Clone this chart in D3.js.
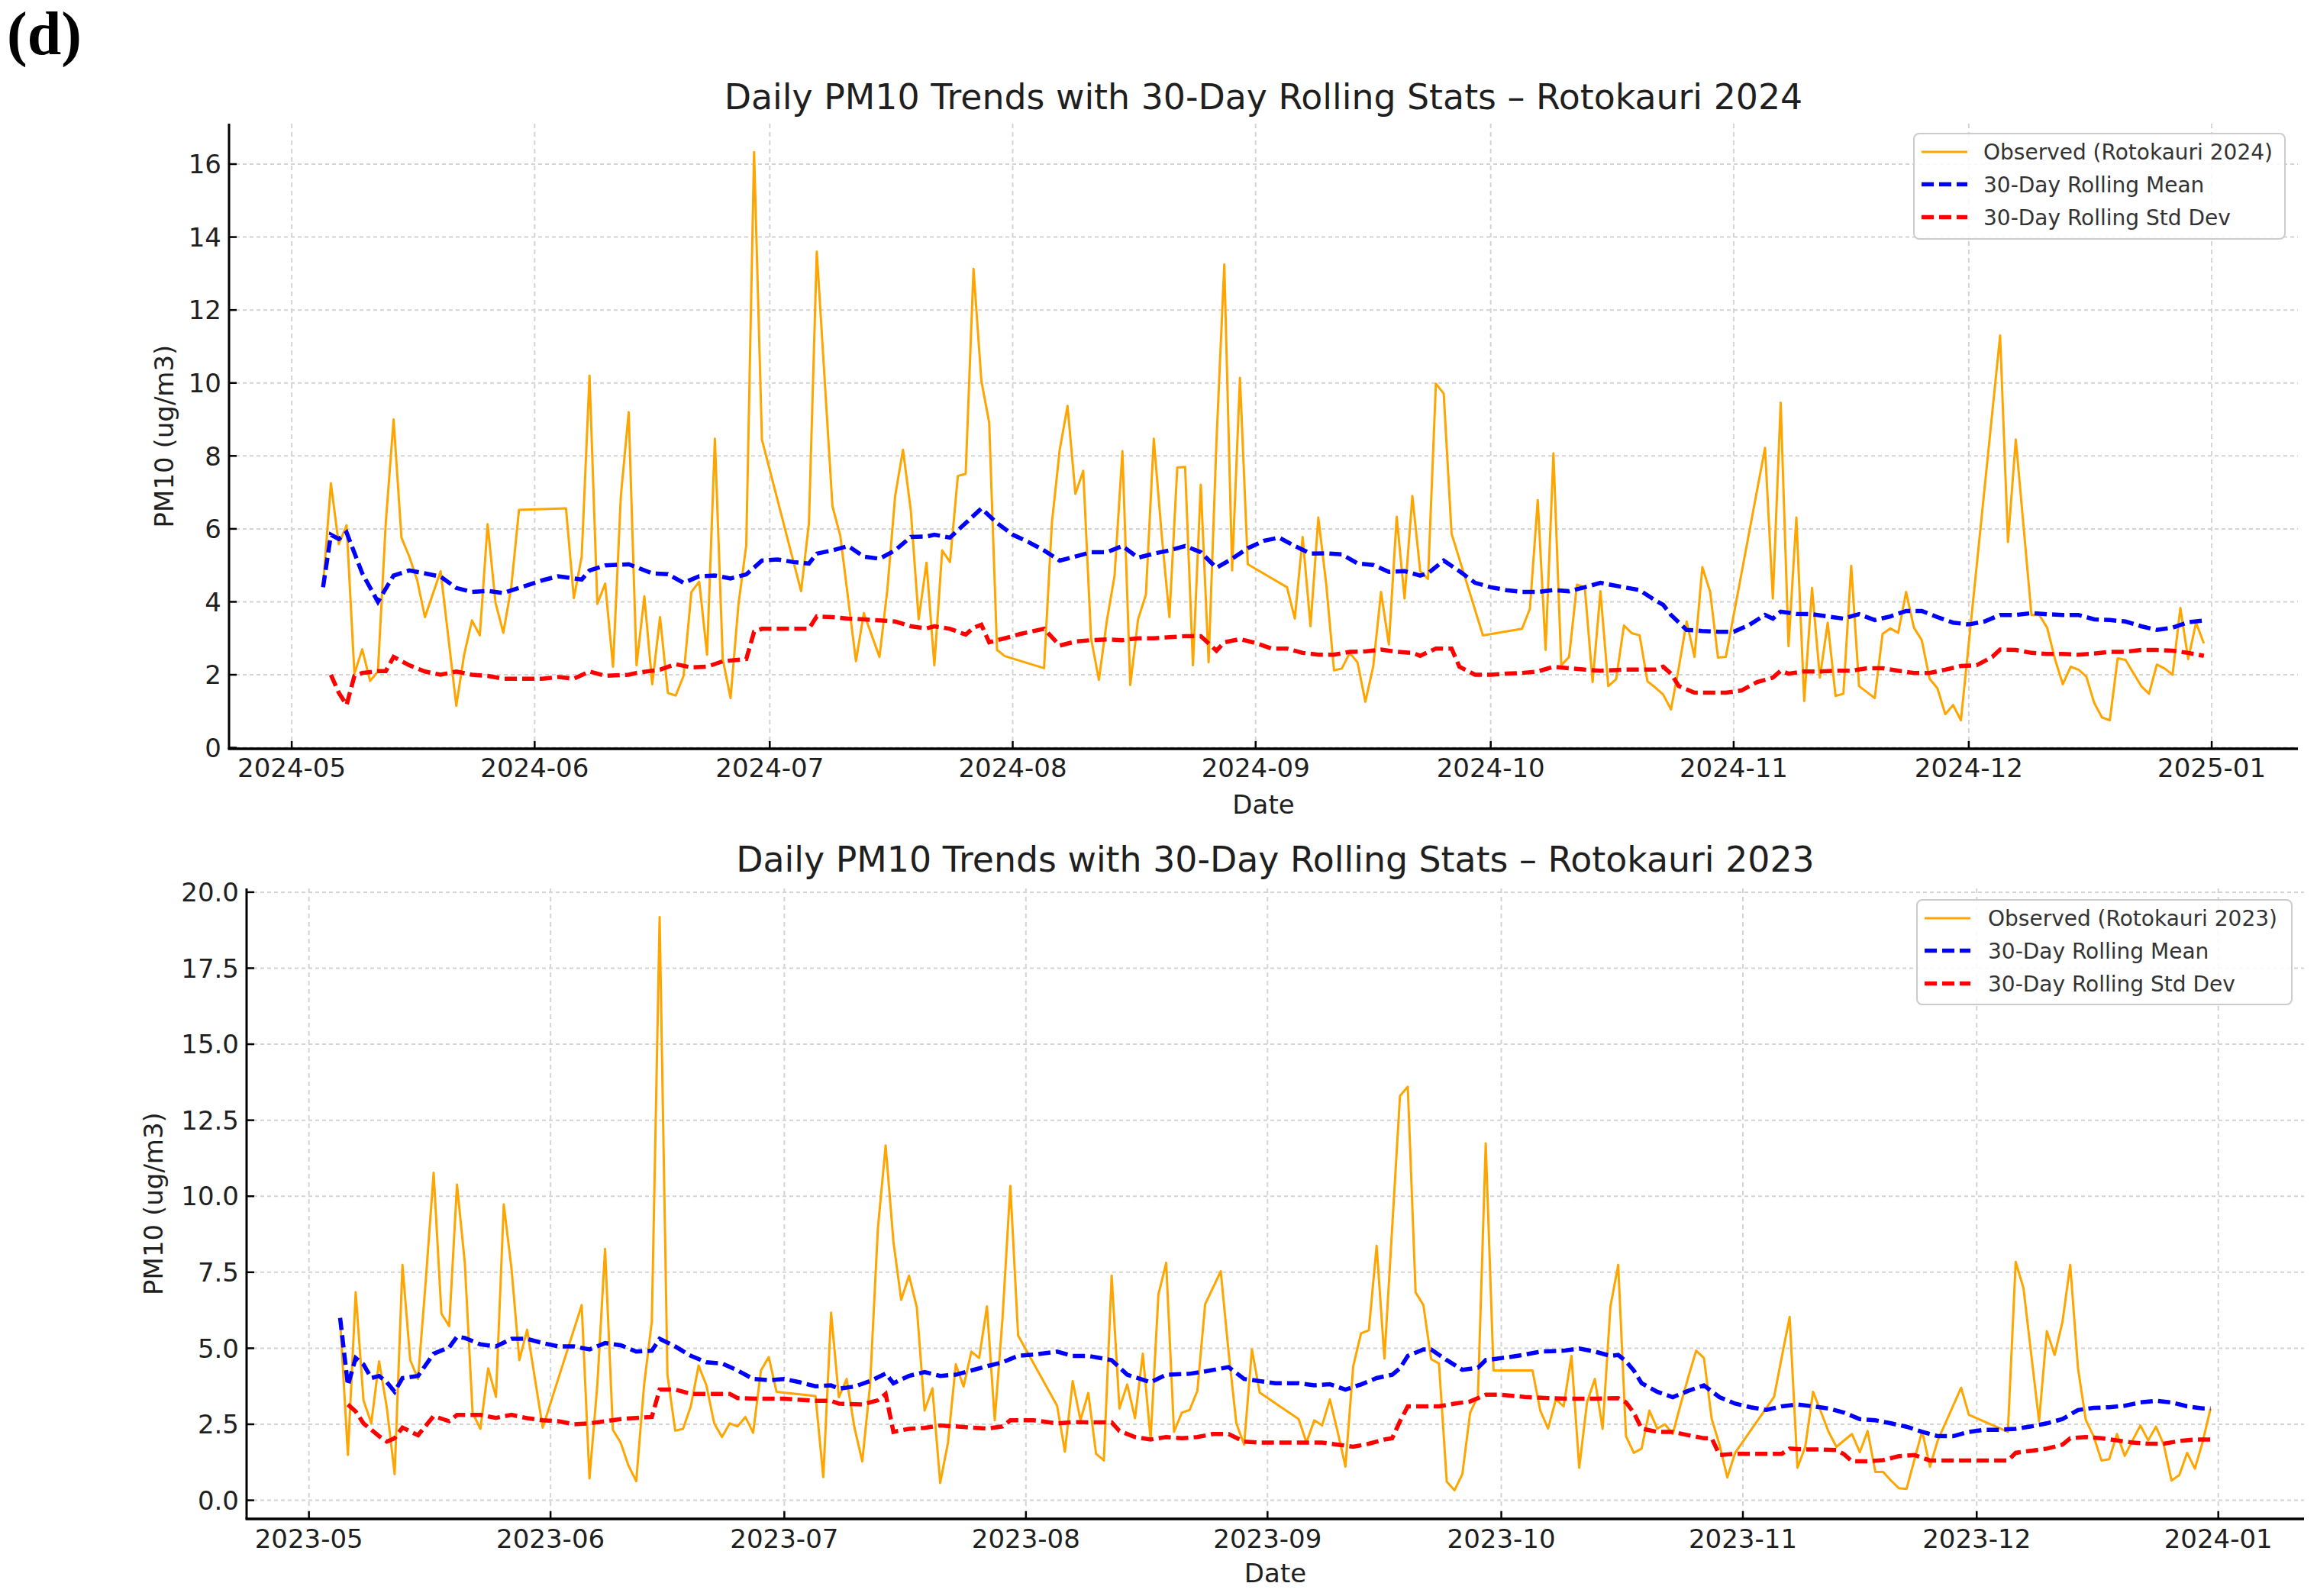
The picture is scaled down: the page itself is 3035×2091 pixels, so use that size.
<!DOCTYPE html>
<html><head><meta charset="utf-8">
<script src="https://cdn.jsdelivr.net/npm/d3@7"></script>
<style>body{margin:0;background:#fff}</style>
</head><body>
<svg id="chart" width="3035" height="2091" xmlns="http://www.w3.org/2000/svg"></svg>
<script>
// ---------- DATA ----------
const panelLabel = "(d)";
const xAxisLabel = "Date";
const yAxisLabel = "PM10 (ug/m3)";
const titles = ["Daily PM10 Trends with 30-Day Rolling Stats \u2013 Rotokauri 2024",
                "Daily PM10 Trends with 30-Day Rolling Stats \u2013 Rotokauri 2023"];
const legend2024 = ["Observed (Rotokauri 2024)", "30-Day Rolling Mean", "30-Day Rolling Std Dev"];
const legend2023 = ["Observed (Rotokauri 2023)", "30-Day Rolling Mean", "30-Day Rolling Std Dev"];
const yTicks2024 = [0, 2, 4, 6, 8, 10, 12, 14, 16];
const yTicks2023 = [0, 2.5, 5, 7.5, 10, 12.5, 15, 17.5, 20];

// 2024 observed (month-day, value)
const obs2024Dates = ["05-05","05-06","05-07","05-08","05-09","05-10","05-11","05-12","05-13","05-14","05-15","05-16","05-17","05-18","05-20","05-21","05-22","05-23","05-24","05-25","05-26","05-27","05-28","05-29","05-30",
"06-05","06-06","06-07","06-08","06-09","06-10","06-11","06-12","06-13","06-14","06-15","06-16","06-17","06-18","06-19","06-20","06-21","06-22","06-23","06-24","06-25","06-26","06-27","06-28","06-29","06-30",
"07-05","07-06","07-07","07-09","07-10","07-12","07-13","07-15","07-16","07-17","07-18","07-19","07-20","07-21","07-22","07-23","07-24","07-25","07-26","07-27","07-28","07-29","07-30","07-31",
"08-05","08-06","08-07","08-08","08-09","08-10","08-11","08-12","08-13","08-14","08-15","08-16","08-17","08-18","08-19","08-20","08-21","08-22","08-23","08-24","08-25","08-26","08-27","08-28","08-29","08-30","08-31",
"09-05","09-06","09-07","09-08","09-09","09-10","09-11","09-12","09-13","09-14","09-15","09-16","09-17","09-18","09-19","09-20","09-21","09-22","09-23","09-24","09-25","09-26","09-30",
"10-05","10-06","10-07","10-08","10-09","10-10","10-11","10-12","10-13","10-14","10-15","10-16","10-17","10-18","10-19","10-20","10-21","10-22","10-23","10-24","10-25","10-26","10-27","10-28","10-29","10-30","10-31",
"11-05","11-06","11-07","11-08","11-09","11-10","11-11","11-12","11-13","11-14","11-15","11-16","11-17","11-19","11-20","11-21","11-22","11-23","11-24","11-25","11-26","11-27","11-28","11-29","11-30",
"12-05","12-06","12-07","12-09","12-10","12-11","12-12","12-13","12-14","12-15","12-16","12-17","12-18","12-19","12-20","12-21","12-22","12-23","12-24","12-25","12-26","12-27","12-28","12-29","12-30","12-31"];
const obs2024Values = [4.44,7.25,5.58,6.1,2.03,2.7,1.83,2.09,6.16,9.0,5.76,5.24,4.6,3.58,4.84,3.0,1.15,2.55,3.49,3.08,6.13,3.98,3.15,4.38,6.52,
6.56,4.1,5.24,10.2,3.94,4.5,2.22,6.9,9.2,2.26,4.15,1.74,3.58,1.5,1.43,1.97,4.27,4.55,2.55,8.47,2.43,1.36,3.92,5.55,16.33,8.45,
4.29,6.16,13.6,6.62,5.81,2.37,3.69,2.49,4.32,6.9,8.17,6.5,3.52,5.07,2.26,5.41,5.09,7.45,7.51,13.13,10.06,8.91,2.68,2.51,
2.18,6.16,8.17,9.37,6.96,7.59,3.0,1.86,3.46,4.72,8.13,1.72,3.52,4.2,8.47,5.87,3.58,7.68,7.7,2.26,7.21,2.34,8.39,13.25,4.86,10.14,5.03,
4.4,3.54,5.78,3.33,6.31,4.5,2.12,2.17,2.6,2.34,1.26,2.22,4.27,2.83,6.33,4.09,6.9,4.84,4.63,9.98,9.71,5.87,3.08,
3.26,3.81,6.79,2.68,8.07,2.26,2.49,4.47,4.4,1.8,4.29,1.69,1.88,3.35,3.14,3.08,1.82,1.65,1.46,1.05,2.2,3.46,2.49,4.95,4.27,2.47,2.49,
8.22,4.09,9.46,2.78,6.31,1.28,4.38,1.92,3.43,1.42,1.48,4.99,1.69,1.36,3.12,3.27,3.15,4.27,3.29,2.95,1.89,1.63,0.92,1.17,0.75,
11.3,5.64,8.45,3.64,3.64,3.29,2.43,1.74,2.22,2.14,1.95,1.23,0.83,0.75,2.45,2.41,2.05,1.69,1.48,2.28,2.17,2.0,3.83,2.43,3.43,2.86];

const mean2024Dates = ["05-05","05-06","05-07","05-08","05-10","05-12","05-14","05-16","05-18","05-20","05-22","05-24","05-26","05-28","05-30","06-02","06-04","06-07","06-08","06-10","06-13","06-16","06-18","06-20","06-22","06-24","06-26","06-28","06-30",
"07-02","07-04","07-06","07-07","07-09","07-11","07-13","07-15","07-17","07-19","07-21","07-22","07-24","07-26","07-28","07-30","08-01","08-03","08-05","08-07","08-09","08-11","08-13","08-15","08-17","08-19","08-21","08-23","08-25","08-27","08-29","08-31",
"09-02","09-04","09-06","09-08","09-10","09-12","09-14","09-16","09-18","09-20","09-22","09-23","09-25","09-27","09-29","10-01","10-03","10-05","10-07","10-09","10-11","10-13","10-15","10-18","10-20","10-22","10-23","10-24","10-26","10-28","10-30",
"11-01","11-03","11-05","11-06","11-07","11-09","11-11","11-13","11-15","11-17","11-19","11-21","11-23","11-25","11-27","11-29","12-01","12-03","12-05","12-07","12-09","12-11","12-13","12-15","12-17","12-19","12-21","12-23","12-25","12-27","12-29","12-31"];
const mean2024Values = [4.4,5.84,5.72,5.9,4.78,4.0,4.72,4.86,4.78,4.69,4.38,4.27,4.3,4.24,4.38,4.59,4.7,4.61,4.86,5.0,5.03,4.78,4.76,4.52,4.7,4.72,4.64,4.75,5.13,
5.16,5.09,5.05,5.32,5.41,5.53,5.24,5.18,5.41,5.78,5.79,5.84,5.76,6.16,6.56,6.16,5.84,5.64,5.41,5.13,5.24,5.36,5.36,5.53,5.21,5.32,5.41,5.53,5.36,4.93,5.18,5.47,
5.67,5.76,5.53,5.32,5.33,5.3,5.05,5.01,4.82,4.84,4.72,4.78,5.13,4.84,4.52,4.4,4.32,4.27,4.27,4.32,4.29,4.4,4.52,4.4,4.32,4.04,3.92,3.64,3.23,3.2,3.18,
3.18,3.37,3.64,3.54,3.73,3.67,3.66,3.6,3.54,3.66,3.5,3.6,3.75,3.75,3.58,3.43,3.38,3.46,3.64,3.64,3.69,3.66,3.64,3.64,3.52,3.5,3.46,3.33,3.23,3.29,3.44,3.49];

const std2024Dates = ["05-06","05-07","05-08","05-09","05-10","05-12","05-13","05-14","05-16","05-18","05-20","05-22","05-24","05-26","05-28","05-30","06-02","06-04","06-06","06-08","06-10","06-13","06-14","06-17","06-19","06-21","06-23","06-25","06-28","06-29","06-30",
"07-06","07-07","07-09","07-11","07-13","07-15","07-17","07-19","07-21","07-22","07-24","07-26","07-27","07-28","07-29","07-31","08-02","08-05","08-07","08-09","08-11","08-13","08-15","08-17","08-19","08-21","08-23","08-25","08-27","08-28","08-30",
"09-01","09-03","09-05","09-07","09-09","09-11","09-13","09-15","09-17","09-19","09-21","09-22","09-24","09-26","09-27","09-29","10-01","10-03","10-05","10-07","10-09","10-11","10-13","10-15","10-18","10-20","10-22","10-23","10-24","10-25","10-27","10-29","10-31",
"11-02","11-04","11-06","11-07","11-08","11-10","11-12","11-14","11-16","11-18","11-20","11-22","11-24","11-26","11-28","11-30","12-02","12-04","12-05","12-07","12-09","12-11","12-13","12-15","12-17","12-19","12-21","12-23","12-25","12-27","12-29","12-31"];
const std2024Values = [2.0,1.51,1.17,1.97,2.05,2.1,2.1,2.49,2.26,2.09,2.0,2.09,2.0,1.97,1.89,1.89,1.89,1.94,1.89,2.09,1.97,2.0,2.05,2.14,2.29,2.2,2.22,2.37,2.43,3.18,3.26,
3.26,3.6,3.58,3.54,3.52,3.49,3.46,3.33,3.27,3.33,3.26,3.1,3.29,3.37,2.89,3.0,3.12,3.26,2.8,2.91,2.95,2.97,2.95,3.0,3.0,3.03,3.06,3.06,2.66,2.89,2.98,
2.87,2.72,2.72,2.6,2.55,2.55,2.63,2.64,2.69,2.63,2.6,2.52,2.72,2.72,2.22,2.0,2.0,2.03,2.05,2.09,2.22,2.18,2.14,2.11,2.14,2.14,2.14,2.22,2.03,1.69,1.51,1.51,1.51,
1.57,1.8,1.92,2.11,2.03,2.09,2.09,2.11,2.11,2.18,2.18,2.11,2.05,2.05,2.14,2.24,2.26,2.49,2.69,2.68,2.6,2.57,2.57,2.55,2.58,2.63,2.63,2.68,2.68,2.66,2.6,2.52];

// 2023 observed
const obs2023Dates = ["05-05","05-06","05-07","05-08","05-09","05-10","05-11","05-12","05-13","05-14","05-15","05-16","05-17","05-18","05-19","05-20","05-21","05-22","05-23","05-24","05-25","05-26","05-27","05-28","05-29","05-31",
"06-05","06-06","06-07","06-08","06-09","06-10","06-11","06-12","06-13","06-14","06-15","06-16","06-17","06-18","06-19","06-20","06-21","06-22","06-23","06-24","06-25","06-26","06-27","06-28","06-29","06-30",
"07-05","07-06","07-07","07-08","07-09","07-10","07-11","07-12","07-13","07-14","07-15","07-16","07-17","07-18","07-19","07-20","07-21","07-22","07-23","07-24","07-25","07-26","07-27","07-28","07-29","07-30","07-31",
"08-05","08-06","08-07","08-08","08-09","08-10","08-11","08-12","08-13","08-14","08-15","08-16","08-17","08-18","08-19","08-20","08-21","08-22","08-23","08-24","08-26","08-27","08-28","08-29","08-30","08-31",
"09-05","09-06","09-07","09-08","09-09","09-10","09-11","09-12","09-13","09-14","09-15","09-16","09-18","09-19","09-20","09-21","09-22","09-23","09-24","09-25","09-26","09-27","09-28","09-29","09-30",
"10-05","10-06","10-07","10-08","10-09","10-10","10-11","10-12","10-13","10-14","10-15","10-16","10-17","10-18","10-19","10-20","10-21","10-22","10-23","10-24","10-25","10-26","10-27","10-28","10-29","10-30","10-31",
"11-05","11-06","11-07","11-08","11-09","11-10","11-11","11-12","11-13","11-15","11-16","11-17","11-18","11-19","11-20","11-21","11-22","11-24","11-25","11-26","11-29","11-30",
"12-05","12-06","12-07","12-09","12-10","12-11","12-12","12-13","12-14","12-15","12-16","12-17","12-18","12-19","12-20","12-21","12-22","12-23","12-24","12-25","12-26","12-27","12-28","12-29","12-30","12-31"];
const obs2023Values = [5.95,1.49,6.84,3.29,2.53,4.57,3.04,0.86,7.74,4.61,3.99,7.25,10.77,6.14,5.73,10.38,7.81,2.88,2.35,4.34,3.4,9.73,7.6,4.61,5.61,2.39,
6.42,0.72,3.78,8.27,2.32,1.9,1.14,0.63,3.78,5.89,19.18,4.13,2.29,2.35,3.09,4.43,3.78,2.53,2.08,2.53,2.43,2.74,2.22,4.27,4.71,3.57,
3.43,0.76,6.17,3.39,3.99,2.39,1.28,3.78,8.92,11.67,8.5,6.59,7.39,6.35,2.95,3.68,0.57,1.9,4.47,3.74,4.89,4.68,6.38,2.63,6.0,10.34,5.42,
3.11,1.6,3.92,2.63,3.53,1.53,1.31,7.39,3.02,3.81,2.7,4.82,2.0,6.77,7.81,2.25,2.88,2.97,3.6,6.45,7.53,4.89,2.53,1.83,4.96,3.54,
2.67,1.9,2.63,2.46,3.32,2.25,1.11,4.41,5.49,5.59,8.37,4.66,13.3,13.6,6.84,6.42,4.64,4.5,0.61,0.33,0.86,2.88,3.43,11.74,4.27,
4.27,2.95,2.36,3.32,3.09,4.75,1.07,3.22,3.99,2.35,6.37,7.74,2.11,1.56,1.7,2.95,2.36,2.5,2.18,3.15,4.06,4.92,4.68,2.67,1.83,0.75,1.56,
3.4,4.73,6.03,1.07,1.76,3.57,2.92,2.25,1.76,2.18,1.58,2.28,0.93,0.93,0.65,0.4,0.375,2.28,1.1,1.97,3.7,2.81,
2.25,7.84,6.98,2.6,5.56,4.78,5.86,7.74,4.34,2.64,2.11,1.31,1.35,2.18,1.46,1.97,2.46,1.97,2.42,1.83,0.65,0.83,1.56,1.04,1.93,3.01];

const mean2023Dates = ["05-05","05-06","05-07","05-08","05-09","05-10","05-11","05-12","05-13","05-15","05-17","05-19","05-20","05-21","05-23","05-25","05-27","05-29","05-31","06-02","06-04","06-06","06-08","06-10","06-12","06-14","06-15","06-17","06-19","06-21","06-23","06-25","06-27","06-29",
"07-01","07-03","07-05","07-07","07-08","07-10","07-12","07-14","07-15","07-17","07-19","07-21","07-23","07-25","07-27","07-29","07-31","08-02","08-05","08-07","08-09","08-12","08-14","08-17","08-19","08-22","08-24","08-27","08-29","08-31",
"09-02","09-05","09-07","09-09","09-11","09-13","09-15","09-17","09-18","09-19","09-21","09-22","09-24","09-26","09-28","09-29","10-02","10-04","10-06","10-09","10-11","10-13","10-15","10-16","10-17","10-18","10-19","10-21","10-23","10-25","10-27","10-29","10-31",
"11-02","11-04","11-06","11-08","11-10","11-12","11-14","11-16","11-18","11-20","11-22","11-24","11-26","11-28","11-30","12-02","12-04","12-06","12-08","12-10","12-12","12-14","12-16","12-18","12-20","12-22","12-24","12-26","12-28","12-30","12-31"];
const mean2023Values = [6.0,3.78,4.68,4.47,4.02,4.09,3.88,3.57,4.02,4.09,4.82,5.03,5.38,5.34,5.13,5.06,5.31,5.31,5.17,5.06,5.06,4.96,5.17,5.1,4.89,4.92,5.31,5.06,4.75,4.54,4.5,4.27,3.99,3.95,
3.99,3.88,3.75,3.78,3.67,3.74,3.92,4.17,3.85,4.09,4.22,4.09,4.13,4.27,4.41,4.54,4.75,4.79,4.89,4.75,4.75,4.61,4.13,3.88,4.13,4.16,4.24,4.38,3.99,3.92,
3.85,3.85,3.78,3.82,3.64,3.81,4.02,4.13,4.34,4.75,4.96,4.96,4.61,4.29,4.36,4.61,4.71,4.79,4.89,4.92,4.99,4.89,4.75,4.78,4.57,4.27,3.85,3.57,3.39,3.6,3.78,3.39,3.18,
3.06,2.97,3.09,3.15,3.09,3.02,2.88,2.67,2.63,2.53,2.42,2.25,2.11,2.11,2.25,2.32,2.32,2.35,2.43,2.53,2.67,2.97,3.04,3.06,3.11,3.22,3.27,3.22,3.09,3.02,3.02];

const std2023Dates = ["05-06","05-07","05-08","05-10","05-11","05-12","05-13","05-15","05-17","05-19","05-20","05-23","05-25","05-27","05-29","05-31","06-02","06-04","06-06","06-08","06-10","06-12","06-14","06-15","06-17","06-19","06-22","06-24","06-25","06-28",
"07-01","07-05","07-07","07-08","07-11","07-13","07-14","07-15","07-17","07-19","07-21","07-23","07-25","07-27","07-29","07-30","08-02","08-05","08-07","08-09","08-12","08-13","08-15","08-17","08-19","08-21","08-23","08-25","08-27","08-29","08-31",
"09-05","09-08","09-10","09-12","09-14","09-16","09-17","09-18","09-19","09-21","09-23","09-25","09-27","09-29","10-01","10-04","10-07","10-10","10-13","10-16","10-17","10-18","10-19","10-21","10-23","10-25","10-27","10-28","10-29","10-31",
"11-02","11-04","11-06","11-07","11-09","11-11","11-13","11-14","11-15","11-17","11-19","11-21","11-23","11-25","11-27","11-29","12-01","12-03","12-05","12-06","12-08","12-10","12-12","12-13","12-15","12-17","12-19","12-21","12-23","12-25","12-27","12-29","12-31"];
const std2023Values = [3.15,2.92,2.53,2.11,1.93,2.04,2.39,2.14,2.77,2.6,2.81,2.81,2.71,2.81,2.7,2.63,2.6,2.5,2.53,2.6,2.67,2.71,2.74,3.64,3.64,3.5,3.5,3.5,3.36,3.34,
3.34,3.27,3.27,3.18,3.15,3.29,3.5,2.25,2.35,2.38,2.46,2.43,2.39,2.36,2.43,2.63,2.63,2.53,2.57,2.56,2.56,2.28,2.08,2.0,2.08,2.04,2.08,2.18,2.18,1.93,1.9,
1.9,1.9,1.83,1.76,1.86,2.0,2.04,2.6,3.09,3.09,3.09,3.18,3.25,3.47,3.47,3.4,3.36,3.34,3.34,3.36,3.22,2.88,2.36,2.25,2.25,2.14,2.04,2.04,1.49,1.53,
1.53,1.53,1.53,1.7,1.67,1.67,1.65,1.51,1.28,1.28,1.32,1.45,1.49,1.31,1.31,1.31,1.31,1.31,1.31,1.56,1.63,1.7,1.83,2.04,2.08,2.04,1.97,1.9,1.86,1.86,1.95,2.0,2.0];

// ---------- DRAWING ----------
const svg = d3.select("#chart");
svg.append("rect").attr("width", 3035).attr("height", 2091).attr("fill", "#fff");
const FONT = "'DejaVu Sans', sans-serif";
const TEXT = "#1f1f1f";
const parse = d3.utcParse("%Y-%m-%d");
const toSeries = (year, dates, vals) => dates.map((md, i) => ({ date: parse(year + "-" + md), v: vals[i] }));

svg.append("text").attr("x", 9).attr("y", 71)
  .attr("font-family", "'Liberation Serif', 'Times New Roman', serif")
  .attr("font-weight", "bold").attr("font-size", 80).attr("fill", "#000")
  .text(panelLabel);

const panels = [
  { year: 2024, obs: [obs2024Dates, obs2024Values], mean: [mean2024Dates, mean2024Values], std: [std2024Dates, std2024Values],
    title: titles[0], legend: legend2024, yTicks: yTicks2024, fmt: d3.format("d"),
    left: 300, right: 3010, top: 162, bottom: 981,
    titleY: 143, tickLabelY: 1018, xLabelY: 1066, yLabelX: 227,
    leg: { w: 486, h: 138, dx: 17, dy: 13, textDx: 91 } },
  { year: 2023, obs: [obs2023Dates, obs2023Values], mean: [mean2023Dates, mean2023Values], std: [std2023Dates, std2023Values],
    title: titles[1], legend: legend2023, yTicks: yTicks2023, fmt: d3.format(".1f"),
    left: 323, right: 3018, top: 1164, bottom: 1990,
    titleY: 1142, tickLabelY: 2028, xLabelY: 2073, yLabelX: 213,
    leg: { w: 491, h: 137, dx: 16, dy: 15, textDx: 93 } }
];

panels.forEach(p => {
  const obs = toSeries(p.year, p.obs[0], p.obs[1]);
  const mean = toSeries(p.year, p.mean[0], p.mean[1]);
  const std = toSeries(p.year, p.std[0], p.std[1]);
  const all = obs.concat(mean, std);

  const [d0, d1] = d3.extent(obs, d => d.date);
  const dm = (d1 - d0) * 0.05;
  const x = d3.scaleUtc().domain([new Date(+d0 - dm), new Date(+d1 + dm)]).range([p.left, p.right]);
  const [v0, v1] = d3.extent(all, d => d.v);
  const vm = (v1 - v0) * 0.05;
  const y = d3.scaleLinear().domain([v0 - vm, v1 + vm]).range([p.bottom, p.top]);

  const xTicks = d3.utcMonth.range(d3.utcMonth.ceil(x.domain()[0]), x.domain()[1]);
  const g = svg.append("g");

  // grid
  g.append("g").selectAll("line").data(xTicks).join("line")
    .attr("x1", d => x(d)).attr("x2", d => x(d)).attr("y1", p.top).attr("y2", p.bottom)
    .attr("stroke", "#d4d4d4").attr("stroke-width", 2).attr("stroke-dasharray", "6,5");
  g.append("g").selectAll("line").data(p.yTicks).join("line")
    .attr("x1", p.left).attr("x2", p.right).attr("y1", d => y(d)).attr("y2", d => y(d))
    .attr("stroke", "#d4d4d4").attr("stroke-width", 2).attr("stroke-dasharray", "5,4");

  const line = d3.line().x(d => x(d.date)).y(d => y(d.v));
  g.append("path").datum(obs).attr("d", line).attr("fill", "none")
    .attr("stroke", "#FFA500").attr("stroke-width", 3).attr("stroke-linejoin", "round");
  g.append("path").datum(mean).attr("d", line).attr("fill", "none")
    .attr("stroke", "#0000FF").attr("stroke-width", 5.5).attr("stroke-dasharray", "16,7");
  g.append("path").datum(std).attr("d", line).attr("fill", "none")
    .attr("stroke", "#FF0000").attr("stroke-width", 5.5).attr("stroke-dasharray", "16,7");

  // spines
  g.append("line").attr("x1", p.left).attr("x2", p.left).attr("y1", p.top).attr("y2", p.bottom)
    .attr("stroke", "#000").attr("stroke-width", 3);
  g.append("line").attr("x1", p.left - 1.5).attr("x2", p.right).attr("y1", p.bottom).attr("y2", p.bottom)
    .attr("stroke", "#000").attr("stroke-width", 3.5);

  // ticks (inward)
  g.append("g").selectAll("line").data(xTicks).join("line")
    .attr("x1", d => x(d)).attr("x2", d => x(d)).attr("y1", p.bottom).attr("y2", p.bottom - 10)
    .attr("stroke", "#000").attr("stroke-width", 2.5);
  g.append("g").selectAll("line").data(p.yTicks).join("line")
    .attr("x1", p.left).attr("x2", p.left + 10).attr("y1", d => y(d)).attr("y2", d => y(d))
    .attr("stroke", "#000").attr("stroke-width", 2.5);

  // tick labels
  g.append("g").selectAll("text").data(xTicks).join("text")
    .attr("x", d => x(d)).attr("y", p.tickLabelY).attr("text-anchor", "middle")
    .attr("font-family", FONT).attr("font-size", 34).attr("fill", TEXT)
    .text(d3.utcFormat("%Y-%m"));
  g.append("g").selectAll("text").data(p.yTicks).join("text")
    .attr("x", p.left - 10).attr("y", d => y(d)).attr("dy", "0.36em").attr("text-anchor", "end")
    .attr("font-family", FONT).attr("font-size", 34).attr("fill", TEXT)
    .text(p.fmt);

  // labels
  g.append("text").attr("x", (p.left + p.right) / 2).attr("y", p.titleY).attr("text-anchor", "middle")
    .attr("font-family", FONT).attr("font-size", 45.8).attr("fill", TEXT).text(p.title);
  g.append("text").attr("x", (p.left + p.right) / 2).attr("y", p.xLabelY).attr("text-anchor", "middle")
    .attr("font-family", FONT).attr("font-size", 34).attr("fill", TEXT).text(xAxisLabel);
  g.append("text").attr("transform", `translate(${p.yLabelX},${(p.top + p.bottom) / 2}) rotate(-90)`)
    .attr("text-anchor", "middle")
    .attr("font-family", FONT).attr("font-size", 34).attr("fill", TEXT).text(yAxisLabel);

  // legend
  const lx = p.right - p.leg.dx - p.leg.w, ly = p.top + p.leg.dy;
  const lg = g.append("g").attr("transform", `translate(${lx},${ly})`);
  lg.append("rect").attr("width", p.leg.w).attr("height", p.leg.h).attr("rx", 7)
    .attr("fill", "#fff").attr("fill-opacity", 0.85).attr("stroke", "#cccccc").attr("stroke-width", 2);
  const styles = [
    { c: "#FFA500", w: 3, dash: null },
    { c: "#0000FF", w: 5.5, dash: "16,7" },
    { c: "#FF0000", w: 5.5, dash: "16,7" }
  ];
  const rowY = [24, 66.5, 109.5];
  p.legend.forEach((lab, i) => {
    const l = lg.append("line").attr("x1", 10).attr("x2", 70).attr("y1", rowY[i]).attr("y2", rowY[i])
      .attr("stroke", styles[i].c).attr("stroke-width", styles[i].w);
    if (styles[i].dash) l.attr("stroke-dasharray", styles[i].dash);
    lg.append("text").attr("x", p.leg.textDx).attr("y", rowY[i]).attr("dy", "0.36em")
      .attr("font-family", FONT).attr("font-size", 28).attr("fill", "#333").text(lab);
  });
});
</script>
</body></html>
